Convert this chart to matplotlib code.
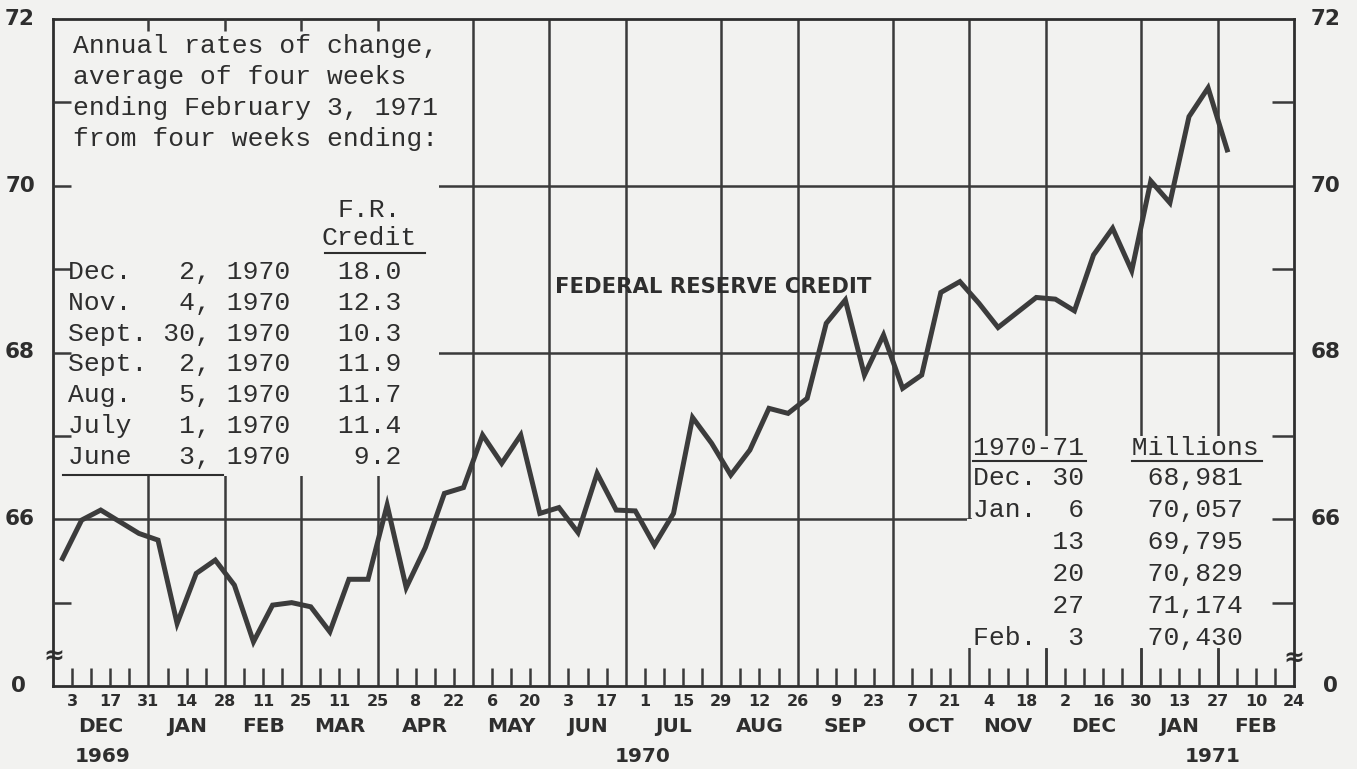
import numpy as np
import matplotlib
matplotlib.use('Agg')
import matplotlib.pyplot as plt
from matplotlib.patches import Rectangle
from matplotlib.lines import Line2D

# Federal Reserve credit, weekly averages (billions), weeks ending Wednesday
first_week = '1969-12-03'
credit_read = [65.53, 65.99, 66.11, 65.97, 65.83, 65.75, 64.75, 65.35, 65.51, 65.21,
               64.53, 64.97, 65.00, 64.95, 64.65, 65.28, 65.28, 66.17, 65.18, 65.66,
               66.31, 66.38, 67.01, 66.67, 67.01, 66.07, 66.14, 65.84, 66.55, 66.11,
               66.10, 65.69, 66.07, 67.22, 66.91, 66.53, 66.83, 67.33, 67.27, 67.45,
               68.35, 68.63, 67.73, 68.21, 67.57, 67.73, 68.72, 68.85, 68.59, 68.30,
               68.48, 68.66, 68.64, 68.50, 69.17, 69.49]

recent_dates = ['Dec. 30', 'Jan.  6', '     13', '     20', '     27', 'Feb.  3']
recent_millions = ['68,981', '70,057', '69,795', '70,829', '71,174', '70,430']

note_lines = ['Annual rates of change,', 'average of four weeks',
              'ending February 3, 1971', 'from four weeks ending:']
rate_dates = ['Dec.   2, 1970', 'Nov.   4, 1970', 'Sept. 30, 1970', 'Sept.  2, 1970',
              'Aug.   5, 1970', 'July   1, 1970', 'June   3, 1970']
rate_values = ['18.0', '12.3', '10.3', '11.9', '11.7', '11.4', '9.2']

x_start, x_end = '1969-11-26', '1971-02-24'
month_lines = ['1969-12-31', '1970-01-28', '1970-02-25', '1970-03-25', '1970-04-29',
               '1970-05-27', '1970-06-24', '1970-07-29', '1970-08-26', '1970-09-30',
               '1970-10-28', '1970-11-25', '1970-12-30', '1971-01-27']
month_names = ['DEC', 'JAN', 'FEB', 'MAR', 'APR', 'MAY', 'JUN', 'JUL', 'AUG', 'SEP',
               'OCT', 'NOV', 'DEC', 'JAN', 'FEB']
years = ['1969', '1970', '1971']
year_at = ['1969-12-14', '1970-06-30', '1971-01-25']
y_labels = [72, 70, 68, 66]

credit = np.array(credit_read + [float(m.replace(',', '')) / 1000 for m in recent_millions])

W, H = 1357, 769
bg = '#f2f2f0'
ink = '#2e2e2e'
bold = dict(family=['Liberation Sans Narrow', 'DejaVu Sans'], weight='bold', color=ink)
mono = dict(family='Liberation Mono', size=19, color=ink)
cw = 0.6 * 19 * 100 / 72   # mono char width in px


def day(d):
    return (np.array(d, dtype='datetime64[D]') - np.datetime64(x_start)).astype(float)


def fx(px):
    return px / W


def fy(py):
    return 1 - py / H


fig = plt.figure(figsize=(W / 100, H / 100), dpi=100, facecolor=bg)
ax = fig.add_axes([fx(53), fy(686), (1294 - 53) / W, (686 - 19) / H])
ax.set_facecolor(bg)
x_max = day(x_end)
ax.set_xlim(0, x_max)
ax.set_ylim(64, 72)
ax.set_xticks([])
ax.set_yticks([])
for s in ax.spines.values():
    s.set_linewidth(2.0)
    s.set_color(ink)

# grid
gl = dict(color='#3a3a3a', lw=1.8, zorder=1)
ml = day(month_lines)
ax.vlines(ml, 64, 72, **gl)
ax.hlines([70, 68], 0, x_max, **gl)
ax.hlines(66, 0, x_max, **gl)

# pasted-over boxes
ax.add_patch(Rectangle((0, 66.52), 141.5, 6, facecolor=bg, edgecolor='none', zorder=2))
ax.add_patch(Rectangle((335.0, 64.45), x_max - 335.0, 1.55, facecolor=bg, edgecolor='none', zorder=2))
ax.add_patch(Rectangle((day('1970-10-28') + 0.8, 65.9), x_max, 1.1, facecolor=bg, edgecolor='none', zorder=2))

# short ticks
tk = dict(color='#3a3a3a', lw=1.8, zorder=3)
wed = np.datetime64(first_week) + 7 * np.arange(64)
wed = wed[~np.isin(wed, np.array(month_lines, dtype='datetime64[D]'))]
ax.vlines(day(wed), 64, 64.22, **tk)
ax.vlines(ml[:4], 71.86, 72, **tk)
ax.vlines(ml[-3:], 64, 64.45, **tk)
ax.hlines([71, 70, 69, 68, 67, 65], 0, 6.5, **tk)
ax.hlines([71, 69, 67, 66, 65], x_max - 8, x_max, **tk)

# data
ax.plot(day(np.datetime64(first_week) + 7 * np.arange(len(credit))) - 3.5, credit,
        color='#3c3c3c', lw=3.6, solid_joinstyle='miter', zorder=4)

ax.text(day('1970-07-26'), 68.78, 'FEDERAL RESERVE CREDIT', ha='center', va='center',
        size=15.2, zorder=5, **bold)

# axis labels
for v in y_labels:
    ax.text(-33 / 1241, v, str(v), transform=ax.get_yaxis_transform(), ha='center',
            va='center', size=15.5, **bold)
    ax.text(1 + 32 / 1241, v, str(v), transform=ax.get_yaxis_transform(), ha='center',
            va='center', size=15.5, **bold)
ax.text(-35 / 1241, 64, '0', transform=ax.get_yaxis_transform(), ha='center', va='center', size=15.5, **bold)
ax.text(1 + 36 / 1241, 64, '0', transform=ax.get_yaxis_transform(), ha='center', va='center', size=15.5, **bold)
fig.text(fx(54), fy(657), '\u2248', ha='center', va='center', size=18, **bold)
fig.text(fx(1294), fy(659), '\u2248', ha='center', va='center', size=18, **bold)

lab = np.datetime64(first_week) + 14 * np.arange(33)
dom = (lab - lab.astype('datetime64[M]')).astype(int) + 1
for d, n in zip(lab, dom):
    ax.text(day(d), -16 / 667, str(n), transform=ax.get_xaxis_transform(), ha='center',
            va='center', size=11.5, **bold)
edges = day([x_start] + month_lines + [x_end])
for c, m in zip((edges[:-1] + edges[1:]) / 2, month_names):
    ax.text(c, -40 / 667, m, transform=ax.get_xaxis_transform(), ha='center',
            va='center', size=14.5, **bold)
for d, y in zip(year_at, years):
    ax.text(day(d), -71 / 667, y, transform=ax.get_xaxis_transform(), ha='center',
            va='center', size=14.5, **bold)

# upper-left note and table
for i, t in enumerate(note_lines):
    fig.text(fx(73), fy(46 + 31 * i), t, ha='left', va='center', **mono)
fig.text(fx(68 + 17 * cw), fy(210), 'F.R.', ha='left', va='center', **mono)
fig.text(fx(68 + 16 * cw), fy(238), 'Credit', ha='left', va='center', **mono)
fig.add_artist(Line2D([fx(325), fx(425)], [fy(253), fy(253)], color=ink, lw=1.5))
for i, (d, v) in enumerate(zip(rate_dates, rate_values)):
    fig.text(fx(68), fy(272 + 30.8 * i), d + '   ' + v.rjust(4), ha='left', va='center', **mono)
fig.add_artist(Line2D([fx(63), fx(223)], [fy(475), fy(475)], color=ink, lw=1.5))

# lower-right table
fig.text(fx(973), fy(448), '1970-71   Millions', ha='left', va='center', **mono)
fig.add_artist(Line2D([fx(973), fx(1086)], [fy(461), fy(461)], color=ink, lw=1.5))
fig.add_artist(Line2D([fx(1132), fx(1262)], [fy(461), fy(461)], color=ink, lw=1.5))
for i, (d, m) in enumerate(zip(recent_dates, recent_millions)):
    fig.text(fx(973), fy(478 + 32 * i), d + '    ' + m, ha='left', va='center', **mono)

fig.savefig('out.png', dpi=100, facecolor=bg)
